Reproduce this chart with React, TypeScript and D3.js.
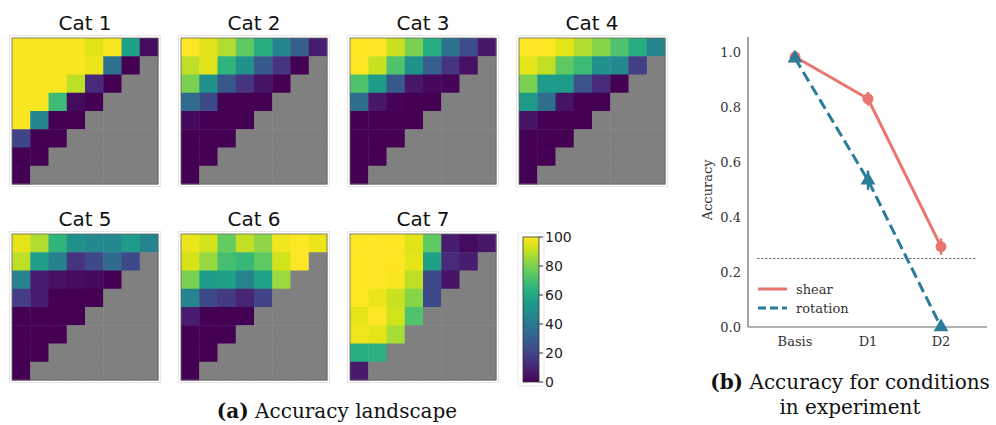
import React from "react";
import * as d3 from "d3";

// ---------- data ----------
const catNames = ["Cat 1", "Cat 2", "Cat 3", "Cat 4", "Cat 5", "Cat 6", "Cat 7"];

const cat1 = [
  [99, 99, 99, 99, 95, 99, 57, 3],
  [99, 99, 99, 99, 97, 37, 0],
  [99, 99, 99, 90, 12, 0],
  [99, 99, 68, 3, 0],
  [99, 45, 0, 0],
  [20, 0, 0],
  [0, 0],
  [0],
];
const cat2 = [
  [100, 95, 88, 75, 62, 45, 30, 8],
  [90, 95, 65, 50, 28, 15, 0],
  [80, 50, 27, 15, 5, 0],
  [35, 22, 0, 0, 0],
  [2, 0, 0, 0],
  [0, 0, 0],
  [0, 0],
  [0],
];
const cat3 = [
  [100, 100, 92, 80, 62, 38, 23, 6],
  [100, 92, 72, 50, 30, 15, 4],
  [72, 55, 28, 6, 2, 1],
  [36, 6, 1, 0, 0],
  [0, 0, 0, 0],
  [0, 0, 0],
  [0, 0],
  [0],
];
const cat4 = [
  [100, 100, 96, 88, 82, 72, 62, 45],
  [96, 91, 75, 68, 50, 47, 18],
  [80, 55, 55, 25, 12, 0],
  [55, 36, 5, 0, 0],
  [5, 0, 0, 0],
  [0, 0, 0],
  [0, 0],
  [0],
];
const cat5 = [
  [96, 88, 65, 50, 47, 47, 55, 45],
  [90, 56, 43, 15, 22, 34, 22],
  [45, 8, 4, 3, 2, 0],
  [18, 8, 0, 0, 0],
  [0, 0, 0, 0],
  [0, 0, 0],
  [0, 0],
  [0],
];
const cat6 = [
  [97, 93, 76, 91, 83, 98, 100, 97],
  [94, 84, 70, 67, 75, 93, 100],
  [80, 55, 57, 45, 58, 85],
  [45, 22, 17, 10, 20],
  [8, 0, 0, 0],
  [0, 0, 0],
  [0, 0],
  [0],
];
const cat7 = [
  [100, 100, 100, 95, 75, 8, 3, 6],
  [100, 100, 100, 96, 57, 12, 8],
  [100, 100, 99, 90, 22, 5],
  [100, 97, 92, 82, 22],
  [96, 100, 93, 72],
  [98, 96, 87],
  [63, 64],
  [7],
];
const catData = [cat1, cat2, cat3, cat4, cat5, cat6, cat7];

const colorbarTicks = [0, 20, 40, 60, 80, 100];

const conditions = ["Basis", "D1", "D2"];
const shearValues = [0.985, 0.832, 0.293];
const shearErr = [0.01, 0.025, 0.03];
const rotationValues = [0.98, 0.535, 0.0];
const rotationErr = [0.01, 0.035, 0.005];
const chanceLevel = 0.25;
const yTicks = [0.0, 0.2, 0.4, 0.6, 0.8, 1.0];

// ---------- layout ----------
const W = 996;
const H = 425;
const gridCols = [12, 181, 350, 519];
const gridRows = [38, 234];
const hmSize = 146;
const N = 8;

const color = d3.scaleSequential(d3.interpolateViridis).domain([0, 100]);
const SHEAR = "#e8766f";
const ROT = "#2b7b9b";

function Heatmap({ x0, y0, name, data }: { x0: number; y0: number; name: string; data: number[][] }) {
  const band = d3.scaleBand<number>().domain(d3.range(N)).range([0, hmSize]);
  const cells: JSX.Element[] = [];
  for (let r = 0; r < N; r++) {
    for (let c = 0; c < N; c++) {
      const v = data[r][c];
      cells.push(
        <rect
          key={`${r}-${c}`}
          x={band(c)!}
          y={band(r)!}
          width={band.bandwidth() + 0.5}
          height={band.bandwidth() + 0.5}
          fill={v === undefined ? "#808080" : color(v)}
        />
      );
    }
  }
  return (
    <g transform={`translate(${x0},${y0})`}>
      <rect x={-2.5} y={-2.5} width={hmSize + 5} height={hmSize + 5} fill="none" stroke="#e6e6e6" strokeWidth={1} />
      {cells}
      <rect x={0} y={0} width={hmSize} height={hmSize} fill="none" stroke="#666" strokeWidth={0.8} />
      <text x={hmSize / 2} y={-8} textAnchor="middle" fontFamily="DejaVu Sans" fontSize={20} fill="#111">
        {name}
      </text>
    </g>
  );
}

function Colorbar() {
  const x0 = 523, y0 = 237, w = 16, h = 145;
  const cs = d3.scaleLinear().domain([0, 100]).range([y0 + h, y0]);
  const stops = d3.range(0, 101, 5);
  return (
    <g>
      <defs>
        <linearGradient id="vir" x1="0" y1="1" x2="0" y2="0">
          {stops.map((s) => (
            <stop key={s} offset={`${s}%`} stopColor={color(s)} />
          ))}
        </linearGradient>
      </defs>
      <rect x={x0 - 5} y={y0 - 4} width={w + 10} height={h + 8} fill="none" stroke="#e6e6e6" />
      <rect x={x0} y={y0} width={w} height={h} fill="url(#vir)" stroke="#333" strokeWidth={0.8} />
      {colorbarTicks.map((t) => (
        <g key={t}>
          <line x1={x0 + w} x2={x0 + w + 4} y1={cs(t)} y2={cs(t)} stroke="#333" />
          <text x={x0 + w + 6} y={cs(t)} dy="0.36em" fontFamily="DejaVu Sans" fontSize={14} fill="#222">
            {t}
          </text>
        </g>
      ))}
    </g>
  );
}

function LineChart() {
  const left = 748, right = 987, top = 37, bottom = 327;
  const x = d3.scalePoint<string>().domain(conditions).range([795, 941]);
  const y = d3.scaleLinear().domain([0, 1]).range([bottom, 52.7]);
  const line = d3
    .line<number>()
    .x((_, i) => x(conditions[i])!)
    .y((d) => y(d));
  const tri = d3.symbol().type(d3.symbolTriangle).size(95)();
  const font = "DejaVu Serif";
  const fs = 13;
  return (
    <g>
      <line x1={left} x2={left} y1={top} y2={bottom} stroke="#666" strokeWidth={1.2} />
      <line x1={left} x2={right} y1={bottom} y2={bottom} stroke="#666" strokeWidth={1.2} />
      {yTicks.map((t) => (
        <text key={t} x={left - 7} y={y(t)} dy="0.35em" textAnchor="end" fontFamily={font} fontSize={fs} fill="#333">
          {t.toFixed(1)}
        </text>
      ))}
      {conditions.map((c) => (
        <text key={c} x={x(c)!} y={bottom + 19} textAnchor="middle" fontFamily={font} fontSize={fs} fill="#333">
          {c}
        </text>
      ))}
      <text transform={`translate(712,${y(0.5)}) rotate(-90)`} textAnchor="middle" fontFamily={font} fontSize={fs} fill="#333">
        Accuracy
      </text>
      <line x1={757} x2={977} y1={y(chanceLevel)} y2={y(chanceLevel)} stroke="#444" strokeWidth={0.8} strokeDasharray="2.5,1.5" />
      {/* shear */}
      <path d={line(shearValues)!} fill="none" stroke={SHEAR} strokeWidth={3} />
      {shearValues.map((v, i) => (
        <g key={i}>
          <line x1={x(conditions[i])!} x2={x(conditions[i])!} y1={y(v - shearErr[i])} y2={y(v + shearErr[i])} stroke={SHEAR} strokeWidth={2.5} />
          <circle cx={x(conditions[i])!} cy={y(v)} r={5.5} fill={SHEAR} />
        </g>
      ))}
      {/* rotation */}
      <path d={line(rotationValues)!} fill="none" stroke={ROT} strokeWidth={3} strokeDasharray="11,5" />
      {rotationValues.map((v, i) => (
        <g key={i}>
          <line x1={x(conditions[i])!} x2={x(conditions[i])!} y1={y(v - rotationErr[i])} y2={y(v + rotationErr[i])} stroke={ROT} strokeWidth={2.5} />
          <path d={tri!} transform={`translate(${x(conditions[i])!},${y(v)})`} fill={ROT} />
        </g>
      ))}
      {/* legend */}
      <line x1={758} x2={787} y1={289} y2={289} stroke={SHEAR} strokeWidth={3} />
      <text x={796} y={289} dy="0.35em" fontFamily={font} fontSize={fs} fill="#333">shear</text>
      <line x1={758} x2={787} y1={308} y2={308} stroke={ROT} strokeWidth={3} strokeDasharray="8,4" />
      <text x={796} y={308} dy="0.35em" fontFamily={font} fontSize={fs} fill="#333">rotation</text>
    </g>
  );
}

export default function App() {
  const positions = [
    [gridCols[0], gridRows[0]],
    [gridCols[1], gridRows[0]],
    [gridCols[2], gridRows[0]],
    [gridCols[3], gridRows[0]],
    [gridCols[0], gridRows[1]],
    [gridCols[1], gridRows[1]],
    [gridCols[2], gridRows[1]],
  ];
  const cap = "DejaVu Serif";
  const capFs = 20;
  return (
    <svg width={W} height={H} style={{ position: "absolute", left: 0, top: 0, background: "#fff" }}>
      {catData.map((d, i) => (
        <Heatmap key={i} x0={positions[i][0]} y0={positions[i][1]} name={catNames[i]} data={d} />
      ))}
      <Colorbar />
      <LineChart />
      <text x={337} y={418} textAnchor="middle" fontFamily={cap} fontSize={capFs} fill="#111">
        <tspan fontWeight="bold">(a)</tspan> Accuracy landscape
      </text>
      <text x={850} y={389} textAnchor="middle" fontFamily={cap} fontSize={capFs} fill="#111">
        <tspan fontWeight="bold">(b)</tspan> Accuracy for conditions
      </text>
      <text x={850} y={414} textAnchor="middle" fontFamily={cap} fontSize={capFs} fill="#111">
        in experiment
      </text>
    </svg>
  );
}
